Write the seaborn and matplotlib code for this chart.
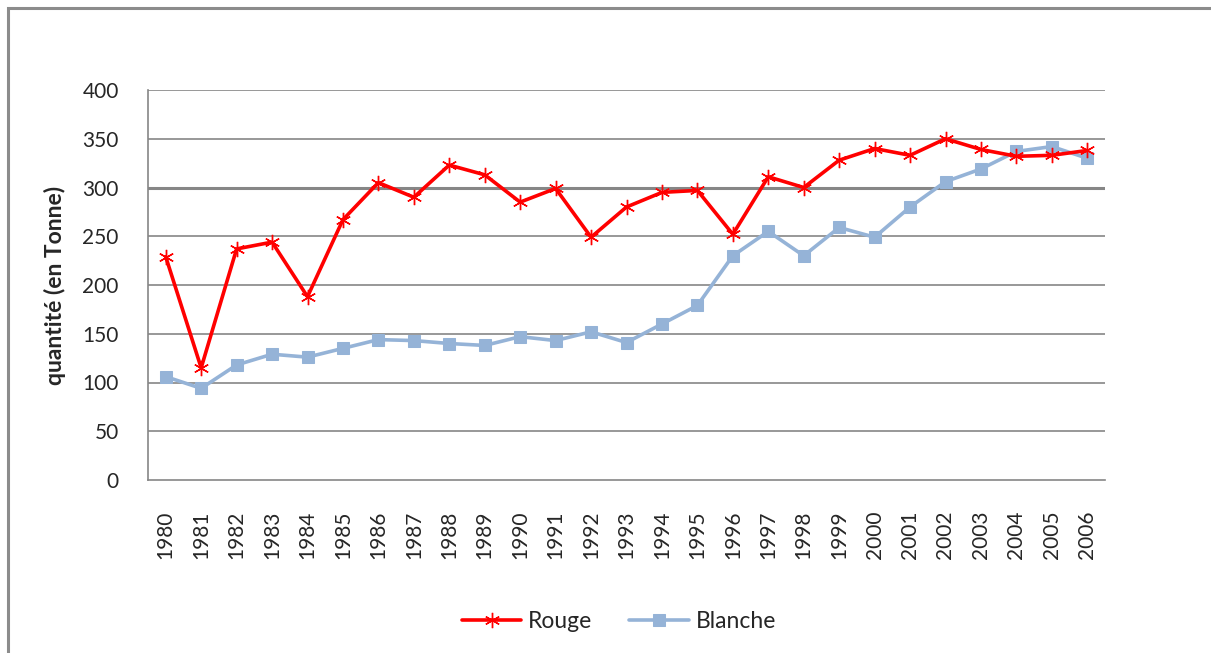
import pandas as pd
import numpy as np
import matplotlib
matplotlib.use("Agg")
import matplotlib.pyplot as plt
import seaborn as sns
from matplotlib.patches import Rectangle

# -------------------------------
# Data
# -------------------------------

years = [str(y) for y in range(1980, 2007)]

rouge = [229, 115, 237, 244, 188, 267, 305, 290, 323, 313, 285, 299, 249,
         280, 295, 297, 252, 311, 300, 328, 340, 333, 350, 339, 332, 333, 338]

blanche = [106, 94, 118, 129, 126, 135, 144, 143, 140, 138, 147, 143, 152,
           141, 160, 179, 230, 255, 230, 259, 249, 280, 306, 319, 337, 342, 330]

df = pd.DataFrame({"annee": years, "Rouge": rouge, "Blanche": blanche})
df["pos"] = np.arange(len(years))

# -------------------------------
# Figure
# -------------------------------

sns.set_style("white")
plt.rcParams["font.family"] = ["Lato", "DejaVu Sans"]

fig = plt.figure(figsize=(12.11, 6.53), dpi=100)
ax = fig.add_axes([148 / 1211, 1 - 480 / 653, 957 / 1211, 390 / 653])

grid_col = "#868686"
for v in range(50, 401, 50):
    ax.axhline(v, color=grid_col, lw=2.2 if v == 300 else 1.2, zorder=0)

sns.lineplot(data=df, x="pos", y="Rouge", ax=ax, color="#FF0000",
             linewidth=2.6, marker=(6, 2, 0), markersize=11,
             markeredgecolor="#FF0000", markeredgewidth=1.0, label="Rouge",
             zorder=3)
sns.lineplot(data=df, x="pos", y="Blanche", ax=ax, color="#95B3D7",
             linewidth=2.6, marker="s", markersize=8,
             markeredgecolor="#95B3D7", label="Blanche", zorder=2)

ax.set_xlim(-0.5, len(years) - 0.5)
ax.set_ylim(0, 400)
ax.set_yticks(range(0, 401, 50))
ax.set_yticklabels([str(v) for v in range(0, 401, 50)], fontsize=15)
ax.set_xticks(df["pos"])
ax.set_xticklabels(years, rotation=90, fontsize=15)
ax.set_xticks(np.arange(-0.5, len(years), 1), minor=True)

ax.tick_params(axis="x", which="major", length=0, pad=22)
ax.tick_params(axis="x", which="minor", length=9, width=1.2, color=grid_col,
               direction="out")
ax.tick_params(axis="y", length=9, width=1.2, color=grid_col,
               direction="out", pad=12)

for side in ["top", "right"]:
    ax.spines[side].set_visible(False)
for side in ["left", "bottom"]:
    ax.spines[side].set_color(grid_col)
    ax.spines[side].set_linewidth(1.2)

ax.set_xlabel("")
ax.set_ylabel("quantité (en Tonne)", fontsize=16.5, fontweight="bold",
              labelpad=12)

ax.legend(loc="upper center", bbox_to_anchor=(0.492, -0.283), ncol=2,
          frameon=False, fontsize=16.5, handlelength=2.6, columnspacing=1.6,
          handletextpad=0.3)

# outer frame
fig.patches.append(Rectangle((8 / 1211, -0.1), 1.2, 1 - 8 / 653 + 0.1,
                             transform=fig.transFigure, fill=False,
                             edgecolor="#8C8C8C", linewidth=2.2))

fig.savefig("out.png", dpi=100)
